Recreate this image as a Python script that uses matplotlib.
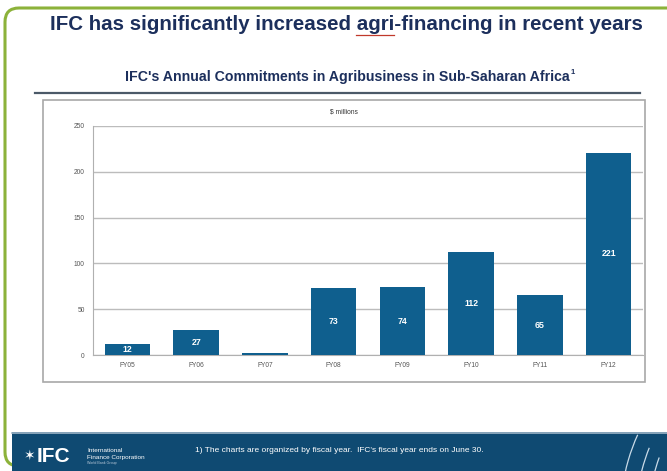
import matplotlib.pyplot as plt
from matplotlib.patches import Rectangle, FancyBboxPatch, Arc

plt.rcParams["font.family"] = ["Liberation Sans", "DejaVu Sans"]

fiscal_years = ["FY05", "FY06", "FY07", "FY08", "FY09", "FY10", "FY11", "FY12"]
commitments = [12, 27, 2, 73, 74, 112, 65, 221]
shown_labels = ["12", "27", "", "73", "74", "112", "65", "221"]
y_ticks = [0, 50, 100, 150, 200, 250]

W, H = 667, 471
navy = "#1c2f5c"
bar_blue = "#0f5f8e"
footer_blue = "#0f4a72"

fig = plt.figure(figsize=(W / 100, H / 100), dpi=100, facecolor="white")

# overlay in pixel coordinates for the slide decoration
deco = fig.add_axes([0, 0, 1, 1])
deco.set_xlim(0, W)
deco.set_ylim(H, 0)
deco.axis("off")

# green rounded slide border
deco.add_patch(
    FancyBboxPatch(
        (5, 8), 700, 458,
        boxstyle="round,pad=0,rounding_size=14",
        facecolor="white", edgecolor="#8cb23a", linewidth=2.2,
    )
)

# titles
title = "IFC has significantly increased agri-financing in recent years"
title_kw = dict(fontsize=14.8, fontweight="bold", color=navy)
t = deco.text(346, 25, title, ha="center", va="center", **title_kw)

# red underline under "agri" (measured from the rendered text)
renderer = fig.canvas.get_renderer()
full = t.get_window_extent(renderer)
probe = deco.text(0, 0, title.split("agri")[0], **title_kw)
pre_w = probe.get_window_extent(renderer).width
probe.set_text("agri")
agri_w = probe.get_window_extent(renderer).width
probe.remove()
x0 = full.x0 + pre_w
deco.plot([x0, x0 + agri_w], [35, 35], color="#c0392b", lw=0.9)

sub = deco.text(347, 77, "IFC's Annual Commitments in Agribusiness in Sub-Saharan Africa",
                ha="center", va="center", fontsize=10.2, fontweight="bold", color=navy)
sub_box = sub.get_window_extent(renderer)
deco.text(sub_box.x1 + 1, 72, "1", ha="left", va="center", fontsize=5.5,
          fontweight="bold", color=navy)
deco.plot([35, 640], [93, 93], color="#4b5968", lw=1.6)

# chart frame
deco.add_patch(Rectangle((43, 100), 602, 282, facecolor="white",
                         edgecolor="#a8a8a8", linewidth=1.2))
deco.text(344, 112, "$ millions", ha="center", va="center", fontsize=4.8, color="#333333")

# footer band
deco.add_patch(Rectangle((12, 432), 660, 40, facecolor=footer_blue, edgecolor="none"))
deco.plot([12, W], [432.5, 432.5], color="#9fb6c8", lw=1.2)
deco.text(24, 456, "\u2736", ha="left", va="center", fontsize=10, color="white",
          family=["DejaVu Sans"])
deco.text(37, 456, "IFC", ha="left", va="center", fontsize=15, fontweight="bold", color="white")
deco.text(87, 450, "International", ha="left", va="center", fontsize=4.6, color="white")
deco.text(87, 457, "Finance Corporation", ha="left", va="center", fontsize=4.6, color="white")
deco.text(87, 463, "World Bank Group", ha="left", va="center", fontsize=2.6, color="#b8c8d8")
deco.text(195, 450, "1) The charts are organized by fiscal year.  IFC's fiscal year ends on June 30.",
          ha="left", va="center", fontsize=6.0, color="white")

# light swirl lines at the bottom right
for cx, cy, w, h, t1, t2 in [(720, 520, 200, 300, 198, 226), (735, 525, 200, 300, 198, 222),
                             (752, 530, 210, 310, 196, 218)]:
    deco.add_patch(Arc((cx, cy), w, h, theta1=t1, theta2=t2, color="#c9dbe8", lw=0.9))

# bar chart
ax = fig.add_axes([93 / W, 1 - 355 / H, 550 / W, 229 / H])
ax.set_facecolor("none")
x = range(len(fiscal_years))
bars = ax.bar(x, commitments, width=0.66, color=bar_blue, zorder=3)
for rect, lab in zip(bars, shown_labels):
    if lab:
        ax.text(rect.get_x() + rect.get_width() / 2, rect.get_height() / 2, lab,
                ha="center", va="center", fontsize=6.3, fontweight="bold", color="white", zorder=4)

ax.set_xlim(-0.5, len(fiscal_years) - 0.5)
ax.set_ylim(0, 250)
ax.set_yticks(y_ticks)
ax.set_yticklabels([str(v) for v in y_ticks], fontsize=4.8, color="#555555")
ax.set_xticks(list(x))
ax.set_xticklabels(fiscal_years, fontsize=4.8, color="#555555")
ax.tick_params(axis="y", length=0, pad=6)
ax.tick_params(axis="x", length=0, pad=5)
ax.grid(axis="y", color="#bcbcbc", linewidth=1.0, zorder=0)
for side in ["top", "right"]:
    ax.spines[side].set_visible(False)
ax.spines["left"].set_color("#b0b0b0")
ax.spines["bottom"].set_color("#b0b0b0")

fig.savefig("out.png", dpi=100, facecolor="white")
plt.close(fig)
